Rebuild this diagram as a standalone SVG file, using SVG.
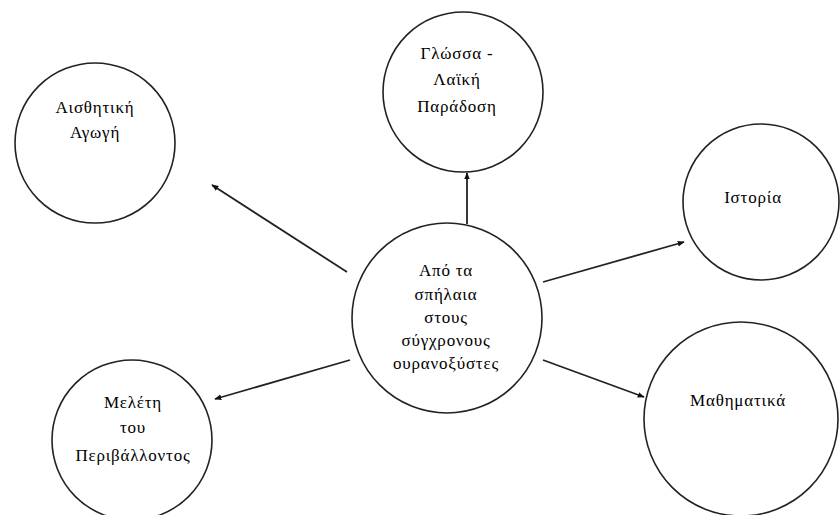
<svg xmlns="http://www.w3.org/2000/svg" width="840" height="515" viewBox="0 0 840 515">
<style>
.node circle{fill:#fff;stroke:#222;stroke-width:1.6}
.node text{font-family:'Liberation Serif','DejaVu Serif',serif;font-size:17px;letter-spacing:0.8px;fill:#000;text-anchor:middle}
.conn line{stroke:#222;stroke-width:1.8}
</style>
<defs>
<marker id="arr" viewBox="0 0 10 10" refX="9" refY="5" markerWidth="7" markerHeight="7" orient="auto" markerUnits="userSpaceOnUse">
<path d="M0,1 L10,5 L0,9 z" fill="#111"/>
</marker>
</defs>
<rect width="840" height="515" fill="#fff"/>
<g id="connectors" class="conn">
<line x1="467" y1="224" x2="467" y2="173" marker-end="url(#arr)"/>
<line x1="347" y1="272" x2="212" y2="185" marker-end="url(#arr)"/>
<line x1="543" y1="282" x2="684" y2="242" marker-end="url(#arr)"/>
<line x1="350" y1="360" x2="215" y2="399" marker-end="url(#arr)"/>
<line x1="543" y1="360" x2="644" y2="397" marker-end="url(#arr)"/>
</g>
<g id="center" class="node">
<circle cx="447" cy="318" r="95"/>
<text x="446" y="276">Από τα</text>
<text x="446" y="300">σπήλαια</text>
<text x="446" y="323">στους</text>
<text x="446" y="346">σύγχρονους</text>
<text x="446" y="369">ουρανοξύστες</text>
</g>
<g id="glossa" class="node">
<circle cx="463" cy="92" r="80"/>
<text x="457" y="59">Γλώσσα -</text>
<text x="457" y="85">Λαϊκή</text>
<text x="457" y="112">Παράδοση</text>
</g>
<g id="aisthitiki" class="node">
<circle cx="95" cy="143" r="80"/>
<text x="95" y="113">Αισθητική</text>
<text x="95" y="138">Αγωγή</text>
</g>
<g id="istoria" class="node">
<circle cx="761" cy="202" r="78"/>
<text x="753" y="203">Ιστορία</text>
</g>
<g id="meleti" class="node">
<circle cx="132" cy="440" r="80"/>
<text x="133" y="408">Μελέτη</text>
<text x="133" y="433">του</text>
<text x="133" y="461">Περιβάλλοντος</text>
</g>
<g id="mathimatika" class="node">
<circle cx="741" cy="419" r="97"/>
<text x="738" y="406">Μαθηματικά</text>
</g>
</svg>
